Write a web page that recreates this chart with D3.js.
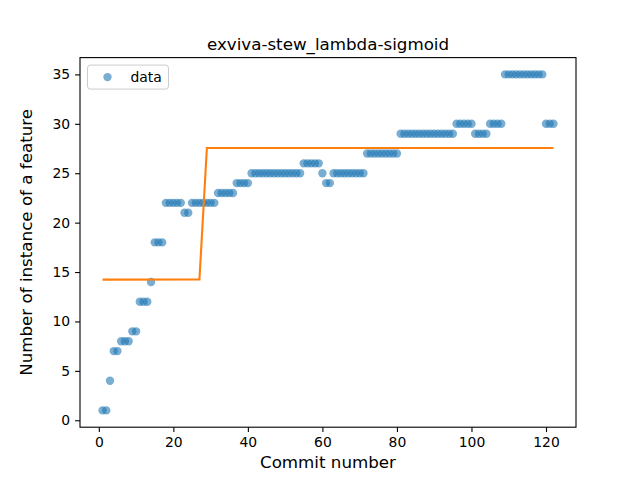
<!DOCTYPE html>
<html>
<head>
<meta charset="utf-8">
<script src="https://cdn.jsdelivr.net/npm/d3@7"></script>
<style>
  body { margin: 0; background: #fff; }
  text { font-family: "DejaVu Sans", sans-serif; fill: #000; }
</style>
</head>
<body>
<div id="chart"></div>
<script>
// commit runs: [first commit, last commit, value]
var runs = [
  [1, 2, 1], [3, 3, 4], [4, 5, 7], [6, 8, 8], [9, 10, 9], [11, 13, 12], [14, 14, 14],
  [15, 17, 18], [18, 22, 22], [23, 24, 21], [25, 31, 22], [32, 36, 23], [37, 40, 24],
  [41, 54, 25], [55, 59, 26], [60, 60, 25], [61, 62, 24], [63, 71, 25], [72, 80, 27],
  [81, 95, 29], [96, 100, 30], [101, 104, 29], [105, 108, 30], [109, 119, 35], [120, 122, 30]
];
var commits = [];
var counts = [];
runs.forEach(function(r) {
  for (var c = r[0]; c <= r[1]; c++) { commits.push(c); counts.push(r[2]); }
});

// fitted sigmoid
var fitX = [1, 27, 28, 29, 122];
var fitY = [14.23, 14.25, 20.9, 27.55, 27.55];

var xTicks = [0, 20, 40, 60, 80, 100, 120];
var yTicks = [0, 5, 10, 15, 20, 25, 30, 35];

var svgWidth = 640, svgHeight = 480;
var margin = { top: 57.6, right: 64, bottom: 52.8, left: 80 };
var width = svgWidth - margin.left - margin.right;
var height = svgHeight - margin.top - margin.bottom;

var svg = d3.select("#chart").append("svg")
  .attr("width", svgWidth).attr("height", svgHeight);
var g = svg.append("g").attr("transform", `translate(${margin.left},${margin.top})`);

var x = d3.scaleLinear().domain([-5.05, 128.05]).range([0, width]);
var y = d3.scaleLinear().domain([-0.7, 36.7]).range([height, 0]);

// points
g.selectAll("circle").data(commits).enter().append("circle")
  .attr("cx", (d, i) => x(d))
  .attr("cy", (d, i) => y(counts[i]))
  .attr("r", 4.2)
  .attr("fill", "#1f77b4")
  .attr("opacity", 0.6);

// fit line
var line = d3.line().x((d, i) => x(fitX[i])).y(d => y(d));
g.append("path").datum(fitY)
  .attr("d", line)
  .attr("fill", "none")
  .attr("stroke", "#ff7f0e")
  .attr("stroke-width", 2.1);

// axes
var xAxis = g.append("g").attr("transform", `translate(0,${height})`)
  .call(d3.axisBottom(x).tickValues(xTicks).tickSize(4.9).tickPadding(4.9));
var yAxis = g.append("g")
  .call(d3.axisLeft(y).tickValues(yTicks).tickSize(4.9).tickPadding(4.9));
[xAxis, yAxis].forEach(function(a) {
  a.selectAll("text").style("font-size", "13.9px").style("font-family", "DejaVu Sans");
  a.selectAll("line").attr("stroke-width", 1.1);
  a.select(".domain").remove();
});

g.append("rect").attr("width", width).attr("height", height)
  .attr("fill", "none").attr("stroke", "#000").attr("stroke-width", 1.1);

// title and labels
g.append("text").attr("x", width / 2).attr("y", -8)
  .attr("text-anchor", "middle").style("font-size", "16.7px")
  .text("exviva-stew_lambda-sigmoid");
g.append("text").attr("x", width / 2).attr("y", height + 41)
  .attr("text-anchor", "middle").style("font-size", "16.7px")
  .text("Commit number");
g.append("text").attr("transform", "rotate(-90)")
  .attr("x", -height / 2).attr("y", -48)
  .attr("text-anchor", "middle").style("font-size", "16.7px")
  .text("Number of instance of a feature");

// legend
var lg = g.append("g").attr("transform", "translate(7.5,7.5)");
lg.append("rect").attr("width", 81).attr("height", 24).attr("rx", 3)
  .attr("fill", "#fff").attr("fill-opacity", 0.8).attr("stroke", "#ccc");
lg.append("circle").attr("cx", 20).attr("cy", 12).attr("r", 4.2)
  .attr("fill", "#1f77b4").attr("opacity", 0.6);
lg.append("text").attr("x", 43).attr("y", 17).style("font-size", "13.9px").text("data");
</script>
</body>
</html>
